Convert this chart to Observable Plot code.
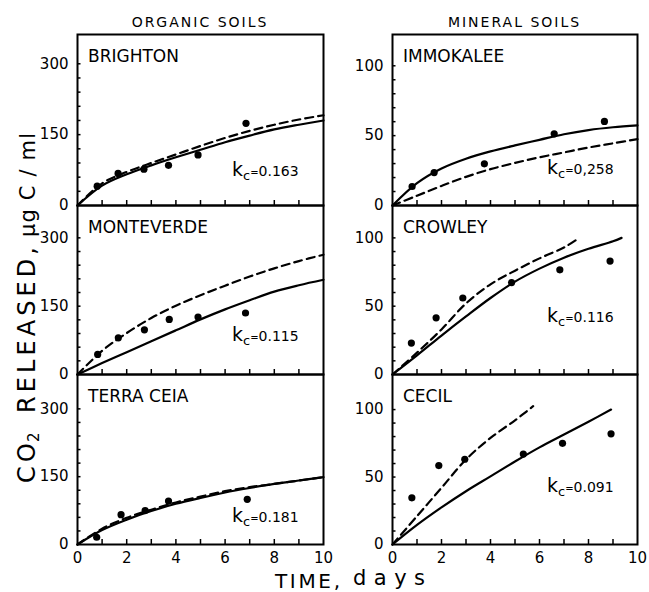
<!DOCTYPE html>
<html><head><meta charset="utf-8">
<script src="https://cdn.jsdelivr.net/npm/d3@7"></script>
<script src="https://cdn.jsdelivr.net/npm/@observablehq/plot@0.6"></script>
<style>
html,body{margin:0;padding:0;background:#fff;}
#chart{position:relative;width:649px;height:592px;overflow:hidden;font-family:"DejaVu Sans",sans-serif;}
#chart svg{position:absolute;left:0;top:0;}
</style></head><body><div id="chart"></div>
<script>
// ---------- data ----------
const columnTitles = ["ORGANIC SOILS", "MINERAL SOILS"];
const soilNames = ["BRIGHTON", "IMMOKALEE", "MONTEVERDE", "CROWLEY", "TERRA CEIA", "CECIL"];
const kcValues = ["0.163", "0,258", "0.115", "0.116", "0.181", "0.091"];
const xTicks = [0, 2, 4, 6, 8, 10];
const xMinor = [1, 2, 3, 4, 5, 6, 7, 8, 9];
const yTicksOrganic = [0, 150, 300];
const yMinorOrganic = [30, 60, 90, 120, 150, 180, 210, 240, 270, 300];
const yTicksMineral = [0, 50, 100];
const yMinorMineral = [10, 20, 30, 40, 50, 60, 70, 80, 90, 100];
const dayGrid = [0, 1, 2, 3, 4, 5, 6, 7, 8, 9, 10];

// Brighton
const brightonObsT = [0.8, 1.65, 2.7, 3.7, 4.9, 6.85];
const brightonObs = [41, 68, 77, 85, 107, 174];
const brightonSolidT = dayGrid;
const brightonSolid = [0, 42, 66, 85, 102, 118, 134, 148, 161, 171, 180];
const brightonDashT = dayGrid;
const brightonDash = [0, 47, 71, 90, 108, 126, 143, 158, 171, 182, 191];
// Immokalee
const immokaleeObsT = [0.8, 1.7, 3.75, 6.6, 8.65];
const immokaleeObs = [13.6, 23.6, 29.8, 51.3, 60.2];
const immokaleeSolidT = dayGrid;
const immokaleeSolid = [0, 16, 26.5, 33.5, 38.7, 43, 47, 51, 54, 56, 57.3];
const immokaleeDashT = dayGrid;
const immokaleeDash = [0, 7, 14, 20.5, 26, 30.5, 34.5, 38, 41.5, 44.5, 47.5];
// Monteverde
const monteverdeObsT = [0.82, 1.66, 2.72, 3.73, 4.9, 6.83];
const monteverdeObs = [44, 80.5, 98, 121, 126, 135];
const monteverdeSolidT = dayGrid;
const monteverdeSolid = [0, 25, 49, 73, 97, 121, 143, 163, 182, 196, 208];
const monteverdeDashT = dayGrid;
const monteverdeDash = [0, 52, 91, 124, 151, 174, 195, 215, 233, 249, 263];
// Crowley
const crowleyObsT = [0.77, 1.78, 2.87, 4.86, 6.83, 8.88];
const crowleyObs = [23, 41.5, 56, 67.3, 76.6, 83];
const crowleySolidT = [0, 1, 2, 3, 4, 5, 6, 7, 8, 9, 9.35];
const crowleySolid = [0, 14, 28.5, 42.5, 56, 68, 77.5, 85.5, 92, 97.5, 100];
const crowleyDashT = [0, 1, 2, 3, 4, 5, 6, 7, 7.62];
const crowleyDash = [0, 16, 33, 52, 66, 76, 85, 93, 100];
// Terra Ceia
const terraCeiaObsT = [0.78, 1.77, 2.75, 3.7, 6.9];
const terraCeiaObs = [16, 66, 75, 96, 100];
const terraCeiaSolidT = dayGrid;
const terraCeiaSolid = [0, 32, 55, 74, 90, 103, 115, 125, 134, 141.5, 149];
const terraCeiaDashT = dayGrid;
const terraCeiaDash = [0, 35, 59, 77, 93, 106, 118, 127, 134, 141.5, 149];
// Cecil
const cecilObsT = [0.79, 1.89, 2.95, 5.34, 6.94, 8.92];
const cecilObs = [34.6, 58.5, 63.2, 67, 75, 82];
const cecilSolidT = [0, 1, 2, 3, 4, 5, 6, 7, 8, 8.92];
const cecilSolid = [0, 14.5, 27.5, 39.5, 50.5, 61.5, 72, 81.5, 91, 100];
const cecilDashT = [0, 1, 2, 3, 4, 5, 5.74];
const cecilDash = [0, 21, 42, 63, 79, 92, 102.5];

// ---------- layout ----------
const W = 649, H = 592;
const colX = [[77, 323], [392, 637]];
const rowY = [[34, 205], [205, 374], [374, 544]];
const yMaxOrganic = [362, 371, 376];
const yMaxMineral = [122.4, 123.7, 126];
const kcLift = [29, 31, 33, 52, 22, 52];

const zip = (t, v) => t.map((d, i) => ({t: d, v: v[i]}));
const series = [
  [brightonObsT, brightonObs, brightonSolidT, brightonSolid, brightonDashT, brightonDash],
  [immokaleeObsT, immokaleeObs, immokaleeSolidT, immokaleeSolid, immokaleeDashT, immokaleeDash],
  [monteverdeObsT, monteverdeObs, monteverdeSolidT, monteverdeSolid, monteverdeDashT, monteverdeDash],
  [crowleyObsT, crowleyObs, crowleySolidT, crowleySolid, crowleyDashT, crowleyDash],
  [terraCeiaObsT, terraCeiaObs, terraCeiaSolidT, terraCeiaSolid, terraCeiaDashT, terraCeiaDash],
  [cecilObsT, cecilObs, cecilSolidT, cecilSolid, cecilDashT, cecilDash]
];

const chart = document.getElementById("chart");
const FONT = "DejaVu Sans";

series.forEach((s, i) => {
  const col = i % 2, row = Math.floor(i / 2);
  const [x0, x1] = colX[col], [y0, y1] = rowY[row];
  const fw = x1 - x0, fh = y1 - y0;
  const organic = col === 0;
  const svg = Plot.plot({
    width: W, height: H,
    marginLeft: x0, marginRight: W - x1, marginTop: y0, marginBottom: H - y1,
    style: {background: "transparent", fontFamily: FONT, fontSize: "15px", color: "#000", overflow: "visible"},
    x: {domain: [0, 10], ticks: xTicks, tickSize: 0, tickPadding: 8, label: null, axis: row === 2 ? "bottom" : null},
    y: {domain: [0, organic ? yMaxOrganic[row] : yMaxMineral[row]], ticks: organic ? yTicksOrganic : yTicksMineral,
        tickSize: 0, tickPadding: 9, label: null},
    marks: [
      Plot.tickY(organic ? yMinorOrganic : yMinorMineral, {y: d => d, insetRight: fw - 3.5, stroke: "#000", strokeWidth: 1.5}),
      Plot.tickX(xMinor, {x: d => d, insetTop: fh - 5, stroke: "#000", strokeWidth: 1.5}),
      Plot.line(zip(s[2], s[3]), {x: "t", y: "v", curve: "catmull-rom", stroke: "#000", strokeWidth: 2.2}),
      Plot.line(zip(s[4], s[5]), {x: "t", y: "v", curve: "catmull-rom", stroke: "#000", strokeWidth: 2.2, strokeDasharray: "8,5"}),
      Plot.dot(zip(s[0], s[1]), {x: "t", y: "v", r: 3.6, fill: "#000", stroke: "none"}),
      Plot.frame({stroke: "#000", strokeWidth: 2})
    ]
  });
  chart.appendChild(svg);
});

// ---------- text overlay ----------
const ov = d3.select(chart).append("svg").attr("width", W).attr("height", H)
  .style("font-family", FONT).style("position", "absolute").style("left", 0).style("top", 0);

columnTitles.forEach((t, c) => {
  ov.append("text").attr("x", (colX[c][0] + colX[c][1]) / 2).attr("y", 27)
    .attr("text-anchor", "middle").attr("font-size", 14).attr("letter-spacing", 2).text(t);
});

soilNames.forEach((name, i) => {
  const col = i % 2, row = Math.floor(i / 2);
  const x0 = colX[col][0], y0 = rowY[row][0], y1 = rowY[row][1];
  ov.append("text").attr("x", x0 + 11).attr("y", y0 + 28).attr("font-size", 17).text(name);
  const t = ov.append("text").attr("x", x0 + 155).attr("y", y1 - kcLift[i]);
  t.append("tspan").attr("font-size", 19).text("k");
  t.append("tspan").attr("font-size", 13).attr("dy", 4).text("c");
  t.append("tspan").attr("font-size", 10).attr("dy", -4).text("=");
  t.append("tspan").attr("font-size", 14).text(kcValues[i]);
});

// y-axis title (rotated)
const yt = [["CO", 483, 40, 24], ["RELEASED,", 413, 166, 24], ["μg C / ml", 237, 104, 21]];
yt.forEach(([s, start, len, fs]) => {
  ov.append("text").attr("transform", `translate(35,${start}) rotate(-90)`)
    .attr("font-size", fs).attr("textLength", len).attr("lengthAdjust", "spacing").text(s);
});
ov.append("text").attr("transform", `translate(39,442) rotate(-90)`).attr("font-size", 15).text("2");

// x-axis title
ov.append("text").attr("x", 275).attr("y", 588).attr("font-size", 20)
  .attr("textLength", 65).attr("lengthAdjust", "spacing").text("TIME,");
ov.append("text").attr("x", 353).attr("y", 585).attr("font-size", 21)
  .attr("textLength", 72).attr("lengthAdjust", "spacing").text("days");
</script></body></html>
